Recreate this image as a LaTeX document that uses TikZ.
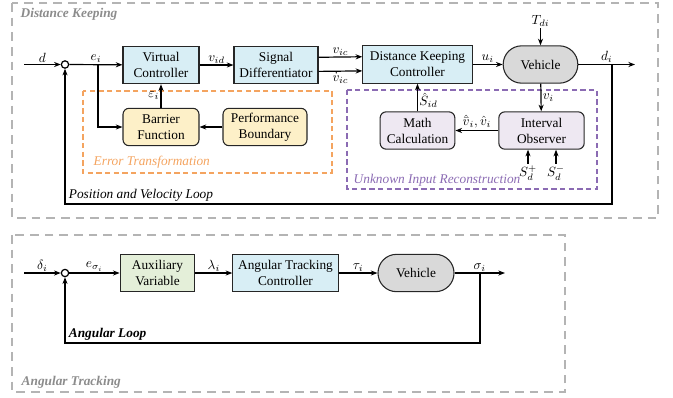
\documentclass[tikz,border=0pt]{standalone}
\usepackage{fontspec}
\setmainfont{Liberation Serif}
\usetikzlibrary{arrows.meta,positioning}

\definecolor{ctrlblue}{HTML}{D8EEF5}
\definecolor{trfyellow}{HTML}{FDF0C8}
\definecolor{auxgreen}{HTML}{E4EFD9}
\definecolor{obslav}{HTML}{EEE8F2}
\definecolor{vehgray}{HTML}{D9D9D9}
\definecolor{errorange}{HTML}{F4A460}
\definecolor{uirpurple}{HTML}{8B6BB3}
\definecolor{panelgray}{HTML}{B4B4B4}

\tikzset{
  blk/.style={draw=black!85, line width=0.8pt, minimum height=28pt, align=center, inner sep=1pt},
  ctrl/.style={blk, fill=ctrlblue},
  trf/.style={blk, fill=trfyellow, rounded corners=4.5pt},
  obs/.style={blk, fill=obslav, rounded corners=4.5pt},
  aux/.style={blk, fill=auxgreen},
  plant/.style={blk, fill=vehgray, rounded corners=13.9pt},
  sumpt/.style={circle, draw, line width=0.9pt, fill=white, minimum size=5.5pt, inner sep=0pt},
  sig/.style={line width=0.9pt, -{Stealth[length=5pt,width=3.8pt]}},
  lbl/.style={inner sep=1pt},
  panel/.style={draw=panelgray, line width=1.1pt, dash pattern=on 6.5pt off 4.5pt},
  paneltxt/.style={anchor=west, text=black!45, font=\bfseries\itshape},
  errbox/.style={draw=errorange, line width=0.9pt, dash pattern=on 4pt off 2.5pt},
  uirbox/.style={draw=uirpurple, line width=0.9pt, dash pattern=on 4pt off 2.5pt},
}

\begin{document}
\begin{tikzpicture}[x=0.75pt,y=-0.75pt]
\useasboundingbox (0,0) rectangle (673,397);

% dashed frames
\draw[panel] (12,3) rectangle (658,218);
\draw[panel] (12,235) rectangle (565,392);
\draw[errbox] (83,91) rectangle (332,173);
\draw[uirbox] (347,90) rectangle (597,189);

\node[paneltxt] (dktitle) at (16,14) {Distance Keeping};
\node[paneltxt] (attitle) at (17,382) {Angular Tracking};
\node[anchor=west, text=errorange, font=\itshape] (errtitle) at (89,162) {Error Transformation};
\node[anchor=west, text=uirpurple, font=\itshape] (uirtitle) at (349,180) {Unknown Input Reconstruction};

%% distance keeping loop
\node[sumpt] (sum1) at (65,64.5) {};
\coordinate (din) at (24,64.5);
\node[ctrl, minimum width=57pt] (vc) at (161,65) {Virtual\\Controller};
\node[ctrl, minimum width=63pt] (sd) at (276,65) {Signal\\Differentiator};
\node[ctrl, minimum width=82pt] (dkc) at (417.5,64.5) {Distance Keeping\\Controller};
\node[plant, minimum width=56pt] (veh) at (540.5,64.5) {Vehicle};
\node[lbl] (tdi) at (540.5,21) {$T_{di}$};
\coordinate (dout) at (635,64.5);
\coordinate (db) at (612,64.5);
\coordinate (loop1) at (612,204);

\node[trf, minimum width=57pt] (bf) at (161,127) {Barrier\\Function};
\node[trf, minimum width=63pt] (pb) at (265,127) {Performance\\Boundary};
\coordinate (eb) at (98,64.5);

\node[obs, minimum width=64pt] (io) at (541.5,130.5) {Interval\\Observer};
\node[obs, minimum width=56pt] (mc) at (417.5,130.5) {Math\\Calculation};
\node[lbl] (sp) at (528,173) {$S_d^{+}$};
\node[lbl] (sm) at (556,173) {$S_d^{-}$};

\draw[sig] (din) -- node[lbl, above] {$d$} (sum1);
\draw[sig] (sum1) -- node[lbl, above] {$e_i$} (vc);
\draw[sig] (eb) |- (bf);
\draw[sig] (vc) -- node[lbl, above] {$v_{id}$} (sd);
\draw[sig] ([yshift=5.8pt]sd.east) -- node[lbl, above] {$v_{ic}$} ([yshift=5.8pt]dkc.west);
\draw[sig] ([yshift=-4.8pt]sd.east) -- node[lbl, below] {$\dot{v}_{ic}$} ([yshift=-4.8pt]dkc.west);
\draw[sig] (dkc) -- node[lbl, above] {$u_i$} (veh);
\draw[sig] (tdi) -- (veh);
\draw[sig] (veh) -- node[lbl, above] {$d_i$} (dout);
\draw[sig] (db) -- (loop1) -| (sum1);
\node[anchor=south west, font=\itshape, inner sep=2pt] (pvloop) at (66,204) {Position and Velocity Loop};

\draw[sig] (bf) -- node[lbl, left] {$\varepsilon_i$} (vc);
\draw[sig] (pb) -- (bf);

\draw[sig] (veh) -- node[lbl, right] {$v_i$} (io);
\draw[sig] (sp) -- (sp |- io.south);
\draw[sig] (sm) -- (sm |- io.south);
\draw[sig] (io) -- node[lbl, above] {$\hat{\bar{v}}_i,\hat{v}_i$} (mc);
\draw[sig] (mc) -- node[lbl, right, pos=0.4] {$\hat{S}_{id}$} (dkc);

%% angular loop
\node[sumpt] (sum2) at (65,273) {};
\coordinate (din2) at (24,273);
\node[aux, minimum width=56pt] (av) at (157.5,273) {Auxiliary\\Variable};
\node[ctrl, minimum width=79pt] (atc) at (285.5,273) {Angular Tracking\\Controller};
\node[plant, minimum width=57pt] (veh2) at (416,273) {Vehicle};
\coordinate (sout) at (505,273);
\coordinate (sb) at (480,273);
\coordinate (loop2) at (480,343);

\draw[sig] (din2) -- node[lbl, above] {$\delta_i$} (sum2);
\draw[sig] (sum2) -- node[lbl, above] {$e_{\sigma_i}$} (av);
\draw[sig] (av) -- node[lbl, above] {$\lambda_i$} (atc);
\draw[sig] (atc) -- node[lbl, above] {$\tau_i$} (veh2);
\draw[sig] (veh2) -- node[lbl, above] {$\sigma_i$} (sout);
\draw[sig] (sb) -- (loop2) -| (sum2);
\node[anchor=south west, font=\bfseries\itshape, inner sep=2pt] (angloop) at (66,343) {Angular Loop};

\end{tikzpicture}
\end{document}
